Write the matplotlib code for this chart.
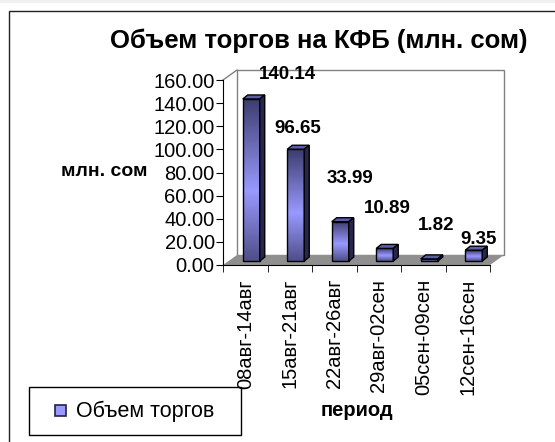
import numpy as np
import matplotlib.pyplot as plt
from matplotlib.patches import Polygon, Rectangle
from matplotlib.colors import LinearSegmentedColormap

plt.rcParams['font.family'] = ['Liberation Sans', 'DejaVu Sans']

# data
periods = ['08авг-14авг', '15авг-21авг', '22авг-26авг', '29авг-02сен', '05сен-09сен', '12сен-16сен']
volumes = [140.14, 96.65, 33.99, 10.89, 1.82, 9.35]
y_ticks = [0, 20, 40, 60, 80, 100, 120, 140, 160]

# where excel put each value label, pixels from the top of the bar
label_offsets = [(36, 24), (2, 21), (10, 43), (3, 40), (7, 33), (5, 11)]

#figure in pixels
W, H = 555, 442
fig = plt.figure(figsize=(W / 100, H / 100), dpi=100)

def fx(px):
    return px / W

def fy(py):
    return 1 - py / H

#front face of the plot area (pixels)
x0, x1 = 223, 490
ytop, ybot = 80, 265
ax = fig.add_axes([fx(x0), fy(ybot), (x1 - x0) / W, (ybot - ytop) / H])
ax.set_xlim(0, len(periods))
ax.set_ylim(0, 160)
ax.patch.set_visible(False)

#pixels per data unit
ppx = (x1 - x0) / len(periods)
ppy = (ybot - ytop) / 160.0

#depth of walls and of bars
wdx, wdy = 14 / ppx, 10 / ppy
bdx, bdy = 5 / ppx, 4 / ppy
bar_w = 17 / ppx
shift = 6 / ppx
base = 4 / ppy

n = len(periods)

#back wall, left wall edge, floor
ax.add_patch(Polygon([(wdx, wdy), (n + wdx, wdy), (n + wdx, 160 + wdy), (wdx, 160 + wdy)],
                     closed=True, facecolor='white', edgecolor='#808080', lw=1, clip_on=False, zorder=0))
ax.plot([0, wdx], [160, 160 + wdy], color='#808080', lw=1, clip_on=False, zorder=0)
ax.add_patch(Polygon([(0, 0), (n, 0), (n + wdx, wdy), (wdx, wdy)],
                     closed=True, facecolor='#8f8f8f', edgecolor='none', clip_on=False, zorder=1))

#gradient for bar fronts: dark top, light middle, a bit darker at bottom
cmap = LinearSegmentedColormap.from_list('bar', [(0.0, '#3c3c6e'), (0.57, '#9999ff'), (1.0, '#4e4e88')])
grad = np.linspace(0, 1, 256).reshape(-1, 1)

for i, v in enumerate(volumes):
    left = i + 0.5 - bar_w / 2 + shift
    right = left + bar_w
    bot = base
    top = base + v
    ax.imshow(grad, cmap=cmap, extent=(left, right, bot, top), aspect='auto',
              origin='upper', zorder=3, interpolation='bilinear')
    ax.add_patch(Rectangle((left, bot), bar_w, v, fill=False, edgecolor='black', lw=1, zorder=4))
    ax.add_patch(Polygon([(left, top), (right, top), (right + bdx, top + bdy), (left + bdx, top + bdy)],
                         closed=True, facecolor='#5c5cac', edgecolor='black', lw=1, zorder=4))
    ax.add_patch(Polygon([(right, bot), (right + bdx, bot + bdy), (right + bdx, top + bdy), (right, top)],
                         closed=True, facecolor='#262650', edgecolor='black', lw=1, zorder=4))
    ax.annotate('%.2f' % v, xy=(i + 0.5 + shift, top), xytext=label_offsets[i],
                textcoords='offset pixels', ha='center', va='center',
                fontsize=13.5, fontweight='bold', annotation_clip=False, zorder=5)

ax.set_xlim(0, n)
ax.set_ylim(0, 160)

#axes lines and ticks
for s in ['top', 'right']:
    ax.spines[s].set_visible(False)
for s in ['left', 'bottom']:
    ax.spines[s].set_color('black')
    ax.spines[s].set_linewidth(0.8)
ax.set_yticks(y_ticks)
ax.set_yticklabels(['%.2f' % t for t in y_ticks], fontsize=14.5)
ax.tick_params(axis='y', direction='out', length=5, pad=1)
ax.set_xticks(np.arange(n) + 0.5)
ax.set_xticklabels(periods, rotation=90, fontsize=14.5)
ax.set_xticks(np.arange(n + 1), minor=True)
ax.tick_params(axis='x', which='major', length=0, pad=10)
ax.tick_params(axis='x', which='minor', direction='out', length=5)

#texts
fig.text(fx(319), fy(41), 'Объем торгов на КФБ (млн. сом)', ha='center', va='center',
         fontsize=18.5, fontweight='bold')
fig.text(fx(104), fy(172), 'млн. сом', ha='center', va='center', fontsize=14, fontweight='bold')
fig.text(fx(357), fy(411), 'период', ha='center', va='center', fontsize=14.5, fontweight='bold')

#legend box drawn by hand
fig.patches.append(Rectangle((fx(29), fy(435)), 212 / W, 48 / H, transform=fig.transFigure,
                             fill=False, edgecolor='black', lw=1))
fig.patches.append(Rectangle((fx(55), fy(416)), 11 / W, 11 / H, transform=fig.transFigure,
                             facecolor='#9999ff', edgecolor='#222244', lw=1.2))
fig.text(fx(76), fy(411), 'Объем торгов', ha='left', va='center', fontsize=15.5)

#outer chart frame, runs off the right and bottom edges
fig.patches.append(Rectangle((fx(0), fy(3)), 1, 3 / H, transform=fig.transFigure,
                             facecolor='#f0f0f0', edgecolor='none'))
fig.patches.append(Rectangle((fx(9), -0.1), 1.2, fy(11) + 0.1, transform=fig.transFigure,
                             fill=False, edgecolor='#222222', lw=1))

plt.savefig('out.png', dpi=100)
